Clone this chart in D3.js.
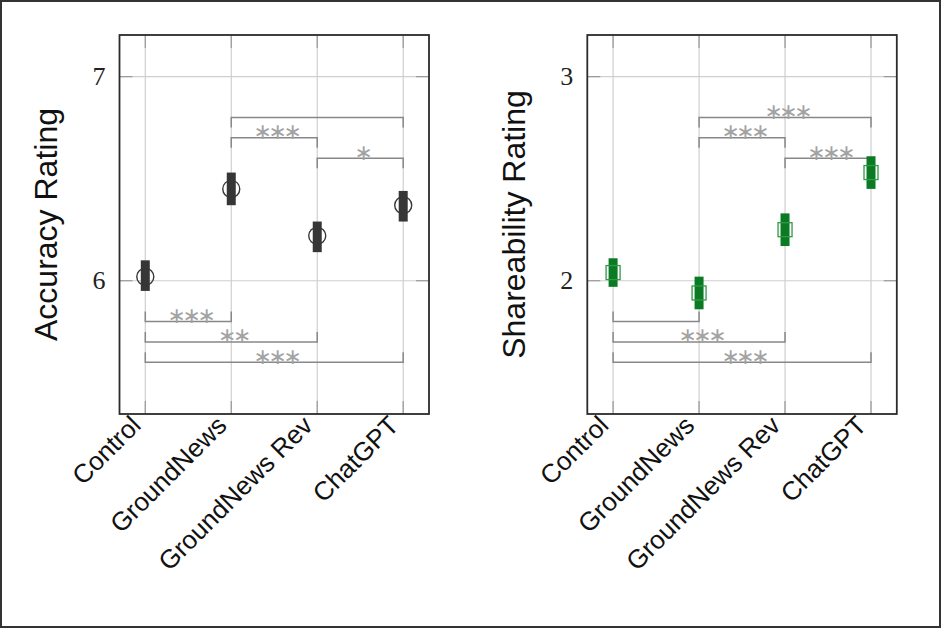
<!DOCTYPE html>
<html>
<head>
<meta charset="utf-8">
<script src="https://cdn.jsdelivr.net/npm/d3@7"></script>
<style>
  body { margin: 0; background: #fff; }
  svg { display: block; }
</style>
</head>
<body>
<script>
const width = 941;
const height = 628;

// data
const categories = ["Control", "GroundNews", "GroundNews Rev", "ChatGPT"];

const accMean = [6.02, 6.45, 6.22, 6.37];
const accLow  = [5.95, 6.37, 6.14, 6.29];
const accHigh = [6.10, 6.53, 6.29, 6.44];
const accTicks = [6, 7];
const accPairs = [[1, 3], [1, 2], [2, 3], [0, 1], [0, 2], [0, 3]];
const accLevels = [6.8, 6.7, 6.6, 5.8, 5.7, 5.6];
const accStars = ["", "***", "*", "***", "**", "***"];

const shareMean = [2.04, 1.94, 2.25, 2.53];
const shareLow  = [1.97, 1.86, 2.17, 2.45];
const shareHigh = [2.11, 2.02, 2.33, 2.61];
const shareTicks = [2, 3];
const sharePairs = [[1, 3], [1, 2], [2, 3], [0, 1], [0, 2], [0, 3]];
const shareLevels = [2.8, 2.7, 2.6, 1.8, 1.7, 1.6];
const shareStars = ["***", "***", "***", "", "***", "***"];

const svg = d3.select("body").append("svg")
    .attr("width", width)
    .attr("height", height);

svg.append("rect")
    .attr("x", 1).attr("y", 1)
    .attr("width", width - 2).attr("height", height - 2)
    .attr("fill", "#fff")
    .attr("stroke", "#333")
    .attr("stroke-width", 2);

function panel(opts) {
    const left = opts.left, top = 35, w = 309.5, h = 379;
    const g = svg.append("g");

    const x = d3.scalePoint()
        .domain(categories)
        .range([left, left + w])
        .padding(0.3);

    const y = d3.scaleLinear()
        .domain(opts.domain)
        .range([top + h, top]);

    // grid
    g.selectAll(".vgrid").data(categories).enter()
        .append("line")
        .attr("x1", d => x(d)).attr("x2", d => x(d))
        .attr("y1", top).attr("y2", top + h)
        .attr("stroke", "#cfcfcf").attr("stroke-width", 1.2);
    g.selectAll(".hgrid").data(opts.ticks).enter()
        .append("line")
        .attr("x1", left).attr("x2", left + w)
        .attr("y1", d => y(d)).attr("y2", d => y(d))
        .attr("stroke", "#cfcfcf").attr("stroke-width", 1.2);

    // inward ticks
    const tl = 13;
    categories.forEach(c => {
        g.append("line").attr("x1", x(c)).attr("x2", x(c))
            .attr("y1", top).attr("y2", top + tl)
            .attr("stroke", "#999").attr("stroke-width", 1.2);
        g.append("line").attr("x1", x(c)).attr("x2", x(c))
            .attr("y1", top + h).attr("y2", top + h - tl)
            .attr("stroke", "#999").attr("stroke-width", 1.2);
    });
    opts.ticks.forEach(t => {
        g.append("line").attr("x1", left).attr("x2", left + tl)
            .attr("y1", y(t)).attr("y2", y(t))
            .attr("stroke", "#999").attr("stroke-width", 1.2);
        g.append("line").attr("x1", left + w).attr("x2", left + w - tl)
            .attr("y1", y(t)).attr("y2", y(t))
            .attr("stroke", "#999").attr("stroke-width", 1.2);
    });

    // significance brackets
    const maxMean = d3.max(opts.mean);
    const leg = 10;
    const ls = -3.5;
    opts.pairs.forEach((p, i) => {
        const yy = y(opts.levels[i]);
        const dir = opts.levels[i] > maxMean ? 1 : -1;
        const x1 = x(categories[p[0]]), x2 = x(categories[p[1]]);
        g.append("path")
            .attr("d", `M${x1},${yy + dir * leg}V${yy}H${x2}V${yy + dir * leg}`)
            .attr("fill", "none")
            .attr("stroke", "#888")
            .attr("stroke-width", 1.5);
        if (opts.stars[i]) {
            g.append("text")
                .attr("x", (x1 + x2) / 2 - ls / 2)
                .attr("y", yy + 1.5)
                .attr("text-anchor", "middle")
                .style("font-family", "DejaVu Sans")
                .style("font-size", "22px")
                .style("letter-spacing", ls + "px")
                .attr("fill", "#a3a3a3")
                .text(opts.stars[i].replace(/\*/g, "\u2217"));
        }
    });

    // error bars
    g.selectAll(".err").data(categories).enter()
        .append("line")
        .attr("x1", d => x(d)).attr("x2", d => x(d))
        .attr("y1", (d, i) => y(opts.low[i]))
        .attr("y2", (d, i) => y(opts.high[i]))
        .attr("stroke", opts.color)
        .attr("stroke-width", 9);

    // mean markers
    if (opts.marker === "circle") {
        g.selectAll(".mk").data(categories).enter()
            .append("circle")
            .attr("cx", d => x(d))
            .attr("cy", (d, i) => y(opts.mean[i]))
            .attr("r", 8.5)
            .attr("fill", "none")
            .attr("stroke", opts.markColor)
            .attr("stroke-width", 1.4);
    } else {
        g.selectAll(".mk").data(categories).enter()
            .append("rect")
            .attr("x", d => x(d) - 7)
            .attr("y", (d, i) => y(opts.mean[i]) - 7)
            .attr("width", 14).attr("height", 14)
            .attr("fill", "none")
            .attr("stroke", opts.markColor)
            .attr("stroke-width", 1.3);
    }

    // frame
    g.append("rect")
        .attr("x", left).attr("y", top)
        .attr("width", w).attr("height", h)
        .attr("fill", "none")
        .attr("stroke", "#2b2b2b")
        .attr("stroke-width", 1.8);

    // y tick labels
    g.selectAll(".ylab").data(opts.ticks).enter()
        .append("text")
        .attr("x", left - 14)
        .attr("y", d => y(d))
        .attr("dy", "0.33em")
        .attr("text-anchor", "end")
        .style("font-family", "Liberation Serif")
        .style("font-size", "26px")
        .attr("fill", "#222")
        .text(d => d);

    // x tick labels
    g.selectAll(".xlab").data(categories).enter()
        .append("text")
        .attr("transform", d => `translate(${x(d) - 3},${top + h + 13}) rotate(-45)`)
        .attr("text-anchor", "end")
        .style("font-family", "Liberation Sans")
        .style("font-size", "26px")
        .attr("fill", "#111")
        .text(d => d);

    // y title
    g.append("text")
        .attr("transform", `translate(${opts.titleX},${top + h / 2}) rotate(-90)`)
        .attr("text-anchor", "middle")
        .style("font-family", "Liberation Sans")
        .style("font-size", "32px")
        .attr("fill", "#111")
        .text(opts.title);
}

panel({
    left: 119.5, domain: [5.347, 7.204], ticks: accTicks,
    mean: accMean, low: accLow, high: accHigh,
    pairs: accPairs, levels: accLevels, stars: accStars,
    color: "#363636", markColor: "#363636", marker: "circle",
    title: "Accuracy Rating", titleX: 57
});

panel({
    left: 587.3, domain: [1.347, 3.204], ticks: shareTicks,
    mean: shareMean, low: shareLow, high: shareHigh,
    pairs: sharePairs, levels: shareLevels, stars: shareStars,
    color: "#0b7a24", markColor: "#2e9a45", marker: "square",
    title: "Shareability Rating", titleX: 525
});
</script>
</body>
</html>
